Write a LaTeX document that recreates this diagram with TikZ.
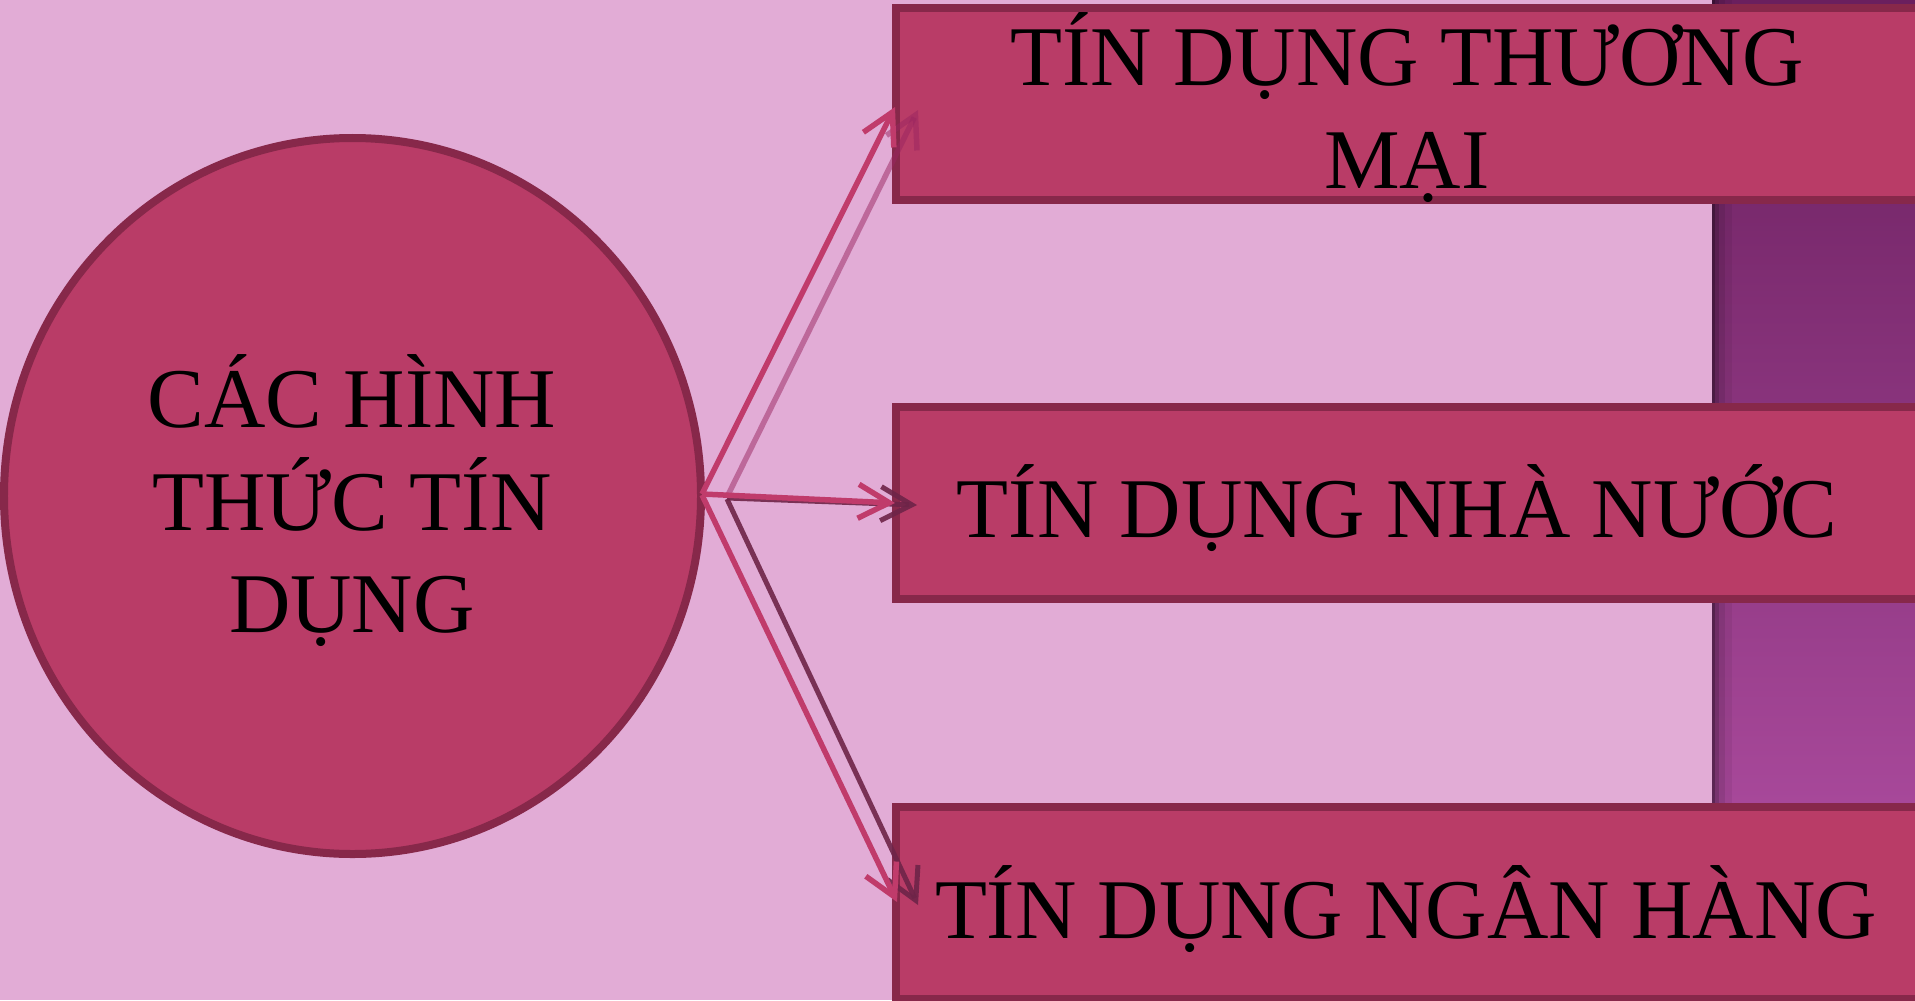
\documentclass[tikz,border=0pt]{standalone}
\usepackage{fontspec}
\setmainfont{Liberation Serif}
\usetikzlibrary{arrows.meta,shapes.geometric}
\definecolor{bg}{HTML}{E2ACD6}
\definecolor{boxfill}{HTML}{B93C67}
\definecolor{boxline}{HTML}{87284A}
\definecolor{arrowfront}{HTML}{C03B6B}
\definecolor{shadowA}{HTML}{9A2560}
\definecolor{shadowB}{HTML}{6E2448}
\definecolor{stripTop}{HTML}{6A1F5E}
\definecolor{stripBot}{HTML}{B652A8}
\tikzset{
  circbox/.style={ellipse, draw=boxline, fill=boxfill, line width=8bp, inner sep=0pt,
    minimum width=697bp, minimum height=716bp},
  rectbox/.style={rectangle, draw=boxline, fill=boxfill, line width=8bp, inner sep=0pt,
    minimum width=1024bp, minimum height=192bp},
  lbl/.style={inner sep=0pt, text=black, font=\fontsize{85bp}{102.7bp}\selectfont},
  tipbarb/.style={-{Straight Barb[length=31bp,width=34bp]}},
  frontarrow/.style={tipbarb, draw=arrowfront, line width=5.5bp},
  shadowlight/.style={tipbarb, draw=shadowA, draw opacity=0.5, line width=5.5bp},
  shadowdark/.style={tipbarb, draw=shadowB, draw opacity=0.9, line width=5bp}
}
\begin{document}
\begin{tikzpicture}[x=1bp,y=-1bp]
\useasboundingbox (0,0) rectangle (1915,1000);
\clip (0,0) rectangle (1915,1000);
\fill[bg] (0,0) rectangle (1915,1000);
% purple strip on the right
\shade[top color=stripTop, bottom color=stripBot] (1712,0) rectangle (1915,1000);
\fill[black, opacity=0.45] (1712,0) rectangle (1715,1000);
\fill[black, opacity=0.28] (1715,0) rectangle (1719,1000);
\fill[black, opacity=0.14] (1719,0) rectangle (1725,1000);
\fill[black, opacity=0.06] (1725,0) rectangle (1732,1000);

% main circle
\node[circbox] (circ) at (352.5,496) {};
\node[lbl, anchor=base, align=center] (ctext) at (352,632.7) {CÁC HÌNH\\THỨC TÍN\\DỤNG};

% boxes
\node[rectbox] (b1) at (1408,104) {};
\node[rectbox] (b2) at (1408,503) {};
\node[rectbox] (b3) at (1408,903) {};
\node[lbl, anchor=base, align=center] (t1) at (1407,188.3) {TÍN DỤNG THƯƠNG\\MẠI};
\node[lbl, anchor=base] (t2) at (1397,537) {TÍN DỤNG NHÀ NƯỚC};
\node[lbl, anchor=base] (t3) at (1406,938) {TÍN DỤNG NGÂN HÀNG};

% shadow arrows
\draw[shadowlight] ([shift={(22,1)}]circ.east) -- ([shift={(26,6)}]b1.west);
\draw[shadowdark] ([shift={(22,2)}]circ.east) -- ([shift={(25,2)}]b2.west);
\draw[shadowdark] ([shift={(22,3)}]circ.east) -- ([shift={(26,2)}]b3.west);
% front arrows
\draw[frontarrow] ([shift={(-3,-2)}]circ.east) -- ([shift={(3,3)}]b1.west);
\draw[frontarrow] ([shift={(-3,-2)}]circ.east) -- ([shift={(3,0)}]b2.west);
\draw[frontarrow] ([shift={(-3,-1)}]circ.east) -- ([shift={(5,-1)}]b3.west);
\end{tikzpicture}
\end{document}
